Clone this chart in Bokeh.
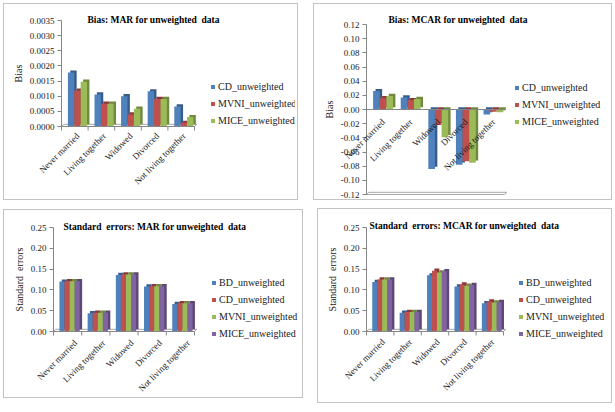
import numpy as np
from bokeh.plotting import figure
from bokeh.layouts import row, column
from bokeh.models import (Range1d, FixedTicker, Legend, LegendItem, LabelSet, Label,
                          ColumnDataSource, NumeralTickFormatter, PrintfTickFormatter)
from bokeh.embed import file_html
from bokeh.resources import INLINE
from bokeh.core.properties import value

# ---- data -------------------------------------------------------------
categories = ["Never married", "Living together", "Widowed", "Divorced", "Not living together"]

mar_bias_cd = [0.00178, 0.00106, 0.00100, 0.00116, 0.00066]
mar_bias_mvni = [0.00118, 0.00075, 0.00040, 0.00091, 0.00012]
mar_bias_mice = [0.00148, 0.00075, 0.00059, 0.00091, 0.00031]
mar_bias_ticks = [0.0, 0.0005, 0.0010, 0.0015, 0.0020, 0.0025, 0.0030, 0.0035]

mcar_bias_cd = [0.026, 0.017, -0.084, -0.078, -0.007]
mcar_bias_mvni = [0.016, 0.013, -0.022, -0.073, -0.003]
mcar_bias_mice = [0.019, 0.015, -0.039, -0.075, -0.004]
mcar_bias_ticks = [-0.12, -0.10, -0.08, -0.06, -0.04, -0.02, 0.0, 0.02, 0.04, 0.06, 0.08, 0.10, 0.12]

mar_se_bd = [0.120, 0.044, 0.136, 0.108, 0.066]
mar_se_cd = [0.121, 0.045, 0.137, 0.109, 0.068]
mar_se_mvni = [0.121, 0.045, 0.137, 0.109, 0.068]
mar_se_mice = [0.121, 0.045, 0.137, 0.109, 0.068]

mcar_se_bd = [0.119, 0.045, 0.135, 0.108, 0.068]
mcar_se_cd = [0.125, 0.047, 0.146, 0.113, 0.072]
mcar_se_mvni = [0.125, 0.047, 0.142, 0.110, 0.070]
mcar_se_mice = [0.125, 0.047, 0.145, 0.112, 0.071]
se_ticks = [0.0, 0.05, 0.10, 0.15, 0.20, 0.25]

BLUE, RED, GREEN, PURPLE = "#4F81BD", "#C0504D", "#9BBB59", "#8064A2"
SHADE = {BLUE: "#385D8A", RED: "#8C3836", GREEN: "#71893F", PURPLE: "#5C4776"}
FONT = "Liberation Serif"
AXIS_GRAY = "#868686"
TEXT = "#1a1a1a"
NB = "\u00a0"  # keeps the doubled spaces in the titles

TOP, BOTTOM, RIGHT, LEFT = 4, 3, 4, 3


def make_panel(title, title_dx, title_dy, ylabel, names, series, colors, y_lo, y_hi,
               ticks, fmt, width, height, axis_x, bars_right, py_hi, py_lo, label_off,
               legend_loc, bar_w, shift, floor_at, base_ticks=True, legend_spacing=5):
    n_cat = len(categories)
    # pixel layout of the frame -> data ranges
    frame_top, frame_bot = TOP, height - BOTTOM
    s = (y_hi - y_lo) / (py_lo - py_hi)          # data units per pixel (y)
    y_start = y_lo - (frame_bot - py_lo) * s
    y_end = y_hi + (py_hi - frame_top) * s
    sx = n_cat / (bars_right - axis_x)            # data units per pixel (x)
    x_start = -(axis_x - LEFT) * sx
    x_end = (width - RIGHT - axis_x) * sx
    depth_y = 2.2 * s
    dx = 2.4 * sx

    p = figure(width=width, height=height, output_backend="svg", toolbar_location=None,
               x_range=Range1d(x_start, x_end), y_range=Range1d(y_start, y_end),
               x_axis_location=None,
               min_border_left=LEFT, min_border_right=RIGHT,
               min_border_top=TOP, min_border_bottom=BOTTOM)
    p.styles = {"border": "1px solid #c3c3c3", "box-sizing": "border-box"}
    p.outline_line_color = None
    p.xgrid.visible = False
    p.ygrid.visible = False

    # chart title, level with the top of the value axis
    p.add_layout(Label(x=0, y=y_hi, x_offset=title_dx, y_offset=title_dy, text=title,
                       text_font=FONT, text_font_size="9.5px", text_font_style="bold",
                       text_color="#000000", text_baseline="middle", text_align="left"))

    # 3D floor outline
    p.patch(x=[0, n_cat, n_cat + dx, dx],
            y=[floor_at, floor_at, floor_at + depth_y, floor_at + depth_y],
            fill_color=None, line_color="#a6a6a6", line_width=1)

    centers = np.arange(n_cat) + 0.5
    items = []
    n = len(series)
    for k, (vals, col, name) in enumerate(zip(series, colors, names)):
        x = centers + shift + (k - (n - 1) / 2) * bar_w
        v = np.asarray(vals, dtype=float)
        tops = np.maximum(v, 0)
        bots = np.minimum(v, 0)
        p.vbar(x=x + dx, top=tops + depth_y, bottom=bots + depth_y, width=bar_w,
               fill_color=SHADE[col], line_color=None)
        r = p.vbar(x=x, top=tops, bottom=bots, width=bar_w, fill_color=col, line_color=None)
        items.append(LegendItem(label=name, renderers=[r]))

    # value axis pinned at the first category edge
    yax = p.yaxis[0]
    yax.fixed_location = 0
    yax.ticker = FixedTicker(ticks=ticks)
    yax.formatter = fmt
    yax.bounds = (y_lo, y_hi)
    yax.axis_line_color = AXIS_GRAY
    yax.major_tick_line_color = AXIS_GRAY
    yax.major_tick_out = 4
    yax.major_tick_in = 0
    yax.minor_tick_line_color = None
    yax.major_label_text_font = FONT
    yax.major_label_text_font_size = "9px"
    yax.major_label_text_color = TEXT
    yax.major_label_standoff = 3
    yax.axis_label = ylabel
    yax.axis_label_text_font = FONT
    yax.axis_label_text_font_size = "10px"
    yax.axis_label_text_font_style = "normal"
    yax.axis_label_text_color = TEXT
    yax.axis_label_standoff = 3

    # category axis: line at zero, boundary ticks, slanted names
    p.segment(x0=[0], x1=[n_cat], y0=[0], y1=[0], line_color=AXIS_GRAY, line_width=1)
    if base_ticks:
        b = np.arange(n_cat + 1)
        p.segment(x0=b, x1=b, y0=np.zeros(n_cat + 1), y1=np.zeros(n_cat + 1) - 4 * s,
                  line_color=AXIS_GRAY, line_width=1)
    src = ColumnDataSource(dict(x=centers, y=np.zeros(n_cat), text=categories))
    p.add_layout(LabelSet(x="x", y="y", text="text", source=src, angle=np.pi / 4,
                          text_align="right", text_baseline="middle",
                          x_offset=label_off[0], y_offset=label_off[1],
                          text_font=value(FONT), text_font_size=value("9px"),
                          text_color=TEXT))

    lx, ly = legend_loc
    legend = Legend(items=items, location=(lx + axis_x - LEFT, ly),
                    glyph_width=5, glyph_height=5,
                    label_standoff=3, padding=0, margin=0, spacing=legend_spacing,
                    label_height=12, label_text_font=FONT, label_text_font_size="10px",
                    label_text_color=TEXT, background_fill_alpha=0,
                    border_line_color=None)
    p.add_layout(legend)
    return p


p1 = make_panel(f"Bias: MAR for unweighted {NB}data", 26, 1, "Bias",
                ["CD_unweighted", "MVNI_unweighted", "MICE_unweighted"],
                [mar_bias_cd, mar_bias_mvni, mar_bias_mice], [BLUE, RED, GREEN],
                0.0, 0.0035, mar_bias_ticks, NumeralTickFormatter(format="0.0000"),
                295, 197, 57, 190, 16, 122, (3, -8), (149, 72), 0.24, 0.1, 0.0)
p1.margin = (3, 0, 0, 3)

p2 = make_panel(f"Bias: MCAR for unweighted {NB}data", 22, 5, "Bias",
                ["CD_unweighted", "MVNI_unweighted", "MICE_unweighted"],
                [mcar_bias_cd, mcar_bias_mvni, mcar_bias_mice], [BLUE, RED, GREEN],
                -0.12, 0.12, mcar_bias_ticks, PrintfTickFormatter(format="%.2f"),
                299, 197, 52, 190, 20, 190, (3, -11), (148, 71), 0.24, 0.1, -0.12,
                base_ticks=False)
p2.margin = (3, 0, 0, 15)

p3 = make_panel(f"Standard {NB}errors: MAR for unweighted {NB}data", 10, 1, f"Standard {NB}errors",
                ["BD_unweighted", "CD_unweighted", "MVNI_unweighted", "MICE_unweighted"],
                [mar_se_bd, mar_se_cd, mar_se_mvni, mar_se_mice], [BLUE, RED, GREEN, PURPLE],
                0.0, 0.25, se_ticks, NumeralTickFormatter(format="0.00"),
                300, 189, 49, 190, 17, 121, (8, -10), (158, 57), 0.18, 0.07, 0.0)
p3.margin = (9, 0, 0, 3)

p4 = make_panel(f"Standard {NB}errors: MCAR for unweighted {NB}data", 3, 2, f"Standard {NB}errors",
                ["BD_unweighted", "CD_unweighted", "MVNI_unweighted", "MICE_unweighted"],
                [mcar_se_bd, mcar_se_cd, mcar_se_mvni, mcar_se_mice], [BLUE, RED, GREEN, PURPLE],
                0.0, 0.25, se_ticks, NumeralTickFormatter(format="0.00"),
                295, 195, 48, 185, 18, 122, (3, -9), (152, 62), 0.18, 0.07, 0.0)
p4.margin = (8, 0, 0, 14)

layout = column(row(p1, p2), row(p3, p4))
open("out.html", "w").write(file_html(layout, INLINE))
